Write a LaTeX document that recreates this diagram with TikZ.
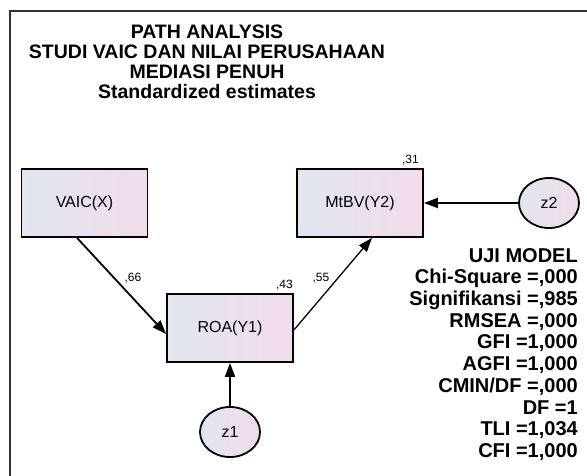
\documentclass[tikz,border=0pt]{standalone}
\usepackage{xcolor}
\usepackage{fontspec}
\setmainfont{Liberation Sans}
\usepackage{tikz}
\usetikzlibrary{positioning, arrows.meta, shapes.geometric}
\definecolor{boxleft}{HTML}{E1E6EF}
\definecolor{boxright}{HTML}{F1DCEA}
\definecolor{framegray}{HTML}{333333}

\begin{document}
\begin{tikzpicture}[x=1pt, y=-1pt,
    varbox/.style={draw=black, line width=1.8pt, left color=boxleft, right color=boxright,
      minimum width=126pt, minimum height=68pt, inner sep=0pt, font=\fontsize{16}{18}\selectfont},
    errnode/.style={draw=black, line width=1.8pt, ellipse, left color=boxleft, right color=boxright,
      minimum width=60pt, minimum height=50pt, inner sep=0pt, font=\fontsize{16}{18}\selectfont},
    pathlbl/.style={inner sep=0pt, font=\fontsize{12}{13}\selectfont},
    patharrow/.style={line width=1.8pt, -{Triangle[length=14pt, width=10pt]}}]
  \useasboundingbox (0,0) rectangle (587,476);
  % outer frame (cut by page edge)
  \draw[framegray, line width=1.6pt] (10,476) -- (10,11) -- (587,11);

  % title
  \node[anchor=north, align=center, inner sep=0pt, font=\fontsize{19.5}{20}\selectfont\bfseries] (title) at (207,25)
    {PATH ANALYSIS\\STUDI VAIC DAN NILAI PERUSAHAAN\\MEDIASI PENUH\\Standardized estimates};

  % variables
  \node[varbox] (vaic) at (84.5,203) {VAIC(X)};
  \node[varbox] (roa) at (230,328) {ROA(Y1)};
  \node[varbox] (mtbv) at (360,203) {MtBV(Y2)};
  \node[errnode] (z1) at (230,432) {z1};
  \node[errnode] (z2) at (549,203) {z2};

  % paths
  \draw[patharrow] ([xshift=-7.5pt]vaic.south) -- ([yshift=-6pt]roa.west);
  \draw[patharrow, line width=1.3pt] ([yshift=-2pt]roa.east) -- ([xshift=12pt]mtbv.south);
  \draw[patharrow] (z1) -- (roa);
  \draw[patharrow] (z2) -- (mtbv);

  \node[pathlbl] (b1) at (133,278) {,66};
  \node[pathlbl] (b2) at (321,278) {,55};
  \node[pathlbl, anchor=south east] (r1) at ([xshift=-1pt, yshift=3pt]roa.north east) {,43};
  \node[pathlbl, anchor=south east] (r2) at ([xshift=-5pt, yshift=3pt]mtbv.north east) {,31};

  % model fit
  \node[anchor=north east, align=right, inner sep=0pt, font=\fontsize{20}{21.7}\selectfont\bfseries] (fit) at (578,248)
    {UJI MODEL\\Chi-Square =,000\\Signifikansi =,985\\RMSEA =,000\\GFI =1,000\\AGFI =1,000\\CMIN/DF =,000\\DF =1\\TLI =1,034\\CFI =1,000};
\end{tikzpicture}
\end{document}
